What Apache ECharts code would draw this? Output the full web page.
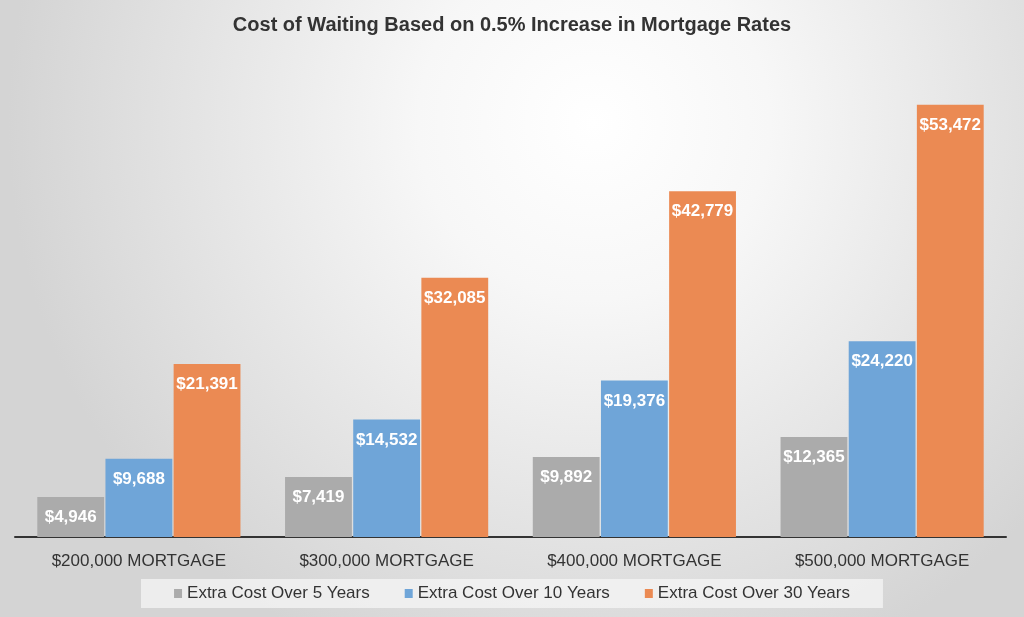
<!DOCTYPE html>
<html><head><meta charset="utf-8">
<script src="https://cdn.jsdelivr.net/npm/echarts@6/dist/echarts.min.js"></script>
<style>html,body{margin:0;padding:0;}#c{width:1024px;height:617px;}</style>
</head><body><div id="c"></div>
<script>
const categories = ['$200,000 MORTGAGE', '$300,000 MORTGAGE', '$400,000 MORTGAGE', '$500,000 MORTGAGE'];
const seriesNames = ['Extra Cost Over 5 Years', 'Extra Cost Over 10 Years', 'Extra Cost Over 30 Years'];
const cost5 = [4946, 7419, 9892, 12365];
const cost10 = [9688, 14532, 19376, 24220];
const cost30 = [21391, 32085, 42779, 53472];
const colors = ['#ababab', '#6fa5d8', '#eb8a53'];

const chart = echarts.init(document.getElementById('c'));
const fmt = v => '$' + v.value.toLocaleString('en-US');
function mk(name, data, color) {
  return {
    name, type: 'bar', data,
    barGap: '2%', barCategoryGap: '18%',
    itemStyle: { color },
    label: { show: true, position: 'insideTop', distance: 12, formatter: fmt,
      color: '#fff', fontWeight: 'bold', fontSize: 17, fontFamily: 'Liberation Sans' }
  };
}
chart.setOption({
  backgroundColor: { type: 'radial', x: 0.58, y: 0.2, r: 0.95,
    colorStops: [{ offset: 0, color: '#ffffff' }, { offset: 0.3, color: '#f7f7f7' }, { offset: 1, color: '#d4d4d4' }] },
  title: { text: 'Cost of Waiting Based on 0.5% Increase in Mortgage Rates', left: 'center', top: 10,
    textStyle: { fontFamily: 'Liberation Sans', fontWeight: 'bold', fontSize: 20, color: '#333' } },
  grid: { left: 15, right: 18, top: 52, bottom: 80 },
  legend: { bottom: 9, left: 'center', data: seriesNames, itemWidth: 8, itemHeight: 9, itemGap: 35,
    icon: 'rect', padding: [6, 33], backgroundColor: 'rgba(245,245,245,0.75)',
    textStyle: { fontFamily: 'Liberation Sans', fontSize: 17, color: '#333' } },
  xAxis: { type: 'category', data: categories,
    axisLine: { lineStyle: { color: '#333', width: 2 } }, axisTick: { show: false },
    axisLabel: { fontFamily: 'Liberation Sans', fontSize: 17, color: '#333', margin: 16 } },
  yAxis: { type: 'value', min: 0, max: 60000, show: false, splitLine: { show: false } },
  series: [mk(seriesNames[0], cost5, colors[0]), mk(seriesNames[1], cost10, colors[1]), mk(seriesNames[2], cost30, colors[2])]
});
</script></body></html>
